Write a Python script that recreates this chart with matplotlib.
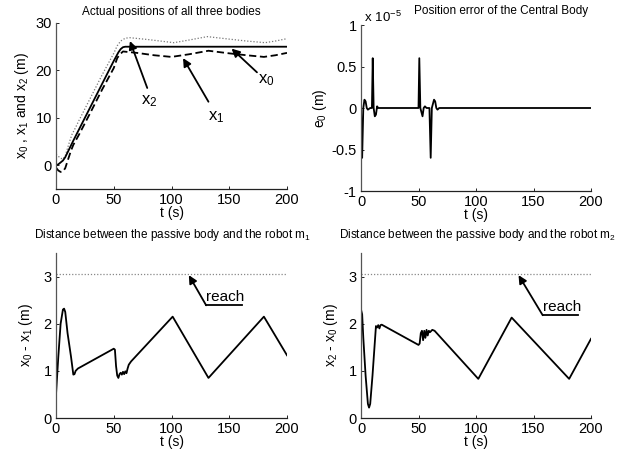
import matplotlib
matplotlib.use("Agg")
import matplotlib.pyplot as plt
import numpy as np

plt.rcParams['font.family'] = ['Liberation Sans', 'DejaVu Sans']
plt.rcParams['mathtext.fontset'] = 'custom'
plt.rcParams['mathtext.rm'] = 'Liberation Sans'
plt.rcParams['mathtext.it'] = 'Liberation Sans'

# ---- Data: actual positions ----
t_x0 = [0, 2, 4, 6, 8, 10, 15, 20, 30, 40, 50, 54, 56, 58, 60, 62, 200]
x0 = [0, 0.2, 0.6, 1.0, 1.7, 2.7, 5.2, 7.6, 12.4, 17.2, 22.0, 23.8, 24.5, 24.9, 25.0, 25.0, 25.0]

t_x1 = [0, 2, 4, 6, 8, 10, 13, 15, 20, 30, 40, 50, 53, 55, 58, 62, 70, 85, 100, 115, 132, 150, 165, 180, 190, 200]
x1 = [-0.5, -1.1, -1.4, -1.3, -0.6, 0.9, 3.1, 4.3, 6.5, 11.2, 16.0, 20.5, 22.6, 23.3, 24.0, 23.9, 23.7, 23.2, 22.85, 23.4, 24.15, 23.6, 23.2, 22.85, 23.2, 23.7]

t_x2 = [0, 2, 4, 6, 8, 10, 12, 14, 16, 20, 30, 40, 50, 53, 56, 60, 64, 80, 102, 115, 131, 150, 165, 181, 190, 200]
x2 = [2.3, 1.9, 1.5, 1.3, 2.0, 3.6, 5.2, 6.6, 7.5, 9.5, 14.3, 19.1, 23.6, 25.2, 26.2, 26.8, 26.9, 26.5, 25.85, 26.4, 27.13, 26.6, 26.2, 25.85, 26.2, 26.7]

# ---- Data: position error of the central body (x 1e-5) ----
t_e0 = [0, 1.0, 2.0, 3, 4, 5, 6, 8, 9.5, 10.2, 11, 12, 13, 14, 15, 16, 50, 50.7, 51.6, 53.5, 54.5, 55.6, 57, 59.5, 60.6, 61.6, 63.5, 64.5, 65.5, 66.5, 68, 200]
e0 = [0, -0.6, 0, 0.1, 0.08, 0, -0.02, 0, 0, 0.6, 0, -0.1, -0.08, 0.02, 0, 0, 0, 0.6, 0, -0.1, 0, 0.02, 0, 0, -0.6, 0, 0.1, 0.08, 0, -0.02, 0, 0]

# ---- Data: distances ----
t_d1 = [0, 2, 4, 6, 7, 8, 10, 13, 15, 16, 17, 19, 50, 51, 52, 53, 54, 55, 56, 57, 58, 59, 60, 61, 62, 63, 65, 101, 132, 180, 200]
d1 = [0.5, 1.3, 2.0, 2.3, 2.32, 2.25, 1.8, 1.3, 0.92, 0.93, 1.0, 1.05, 1.47, 1.45, 1.1, 0.9, 0.85, 0.93, 0.96, 0.92, 0.98, 0.93, 0.99, 0.95, 1.05, 1.13, 1.2, 2.15, 0.85, 2.15, 1.33]

t_d2 = [0, 1, 2, 4, 6, 7, 8, 10, 12, 13, 14, 15, 16, 17, 18, 50, 51, 52, 53, 54, 55, 56, 57, 58, 59, 60, 62, 64, 102, 131, 181, 200]
d2 = [2.3, 2.2, 1.7, 0.9, 0.3, 0.22, 0.3, 0.9, 1.6, 1.95, 1.92, 1.97, 1.9, 1.97, 1.98, 1.55, 1.58, 1.8, 1.85, 1.65, 1.85, 1.7, 1.87, 1.75, 1.85, 1.82, 1.87, 1.85, 0.83, 2.13, 0.83, 1.68]

reach = 3.05

xticks = [0, 50, 100, 150, 200]

fig = plt.figure(figsize=(6.26, 4.51), dpi=100)

def style(ax):
    for s in ['top', 'right']:
        ax.spines[s].set_visible(False)
    ax.spines['left'].set_linewidth(0.9)
    ax.spines['left'].set_color('#555555')
    ax.spines['bottom'].set_linewidth(0.9)
    ax.spines['bottom'].set_color('#222222')
    ax.tick_params(direction='in', length=2.5, width=0.6, labelsize=10.5, pad=3)
    ax.set_xlim(0, 200)
    ax.set_xticks(xticks)
    ax.set_xlabel('t (s)', fontsize=10, labelpad=-1)

W, H = 626, 451
def add(l, r, t, b):
    return fig.add_axes([l / W, 1 - b / H, (r - l) / W, (b - t) / H])

ap = dict(arrowstyle='-|>', color='black', lw=1.3, mutation_scale=12, shrinkA=0, shrinkB=0)

# Top-left
ax1 = add(56, 287, 23, 189)
style(ax1)
ax1.plot(t_x2, x2, color='#777777', lw=0.9, ls=(0, (1, 1.5)))
ax1.plot(t_x1, x1, color='black', lw=1.3, ls=(0, (4, 2)))
ax1.plot(t_x0, x0, color='black', lw=1.3)
ax1.set_ylim(-5, 30)
ax1.set_yticks([0, 10, 20, 30])
ax1.set_ylabel('x$_0$ , x$_1$ and x$_2$ (m)', fontsize=10, labelpad=3)
ax1.set_title('Actual positions of all three bodies', fontsize=8.5, pad=6)
ax1.annotate('', xy=(64, 26.2), xytext=(79, 16.3), arrowprops=ap)
ax1.text(81, 13.5, 'x$_2$', fontsize=12, ha='center', va='center')
ax1.annotate('', xy=(110, 22.6), xytext=(132, 13.4), arrowprops=ap)
ax1.text(139, 10.2, 'x$_1$', fontsize=12, ha='center', va='center')
ax1.annotate('', xy=(152, 24.6), xytext=(174, 19.6), arrowprops=ap)
ax1.text(182, 18.0, 'x$_0$', fontsize=12, ha='center', va='center')

# Top-right
ax2 = add(361, 591, 25, 191)
style(ax2)
ax2.plot(t_e0, e0, color='black', lw=1.3)
ax2.set_ylim(-1, 1)
ax2.set_yticks([-1, -0.5, 0, 0.5, 1])
ax2.set_yticklabels(['-1', '-0.5', '0', '0.5', '1'])
ax2.set_ylabel('e$_0$ (m)', fontsize=10, labelpad=2)
ax2.text(0.0, 1.0, ' x 10$^{-5}$', transform=ax2.transAxes, fontsize=9.5, ha='left', va='bottom')
fig.text(501 / W, 1 - 11 / H, 'Position error of the Central Body', fontsize=8.5, ha='center', va='center')

# Bottom-left
ax3 = add(56, 287, 253, 418)
style(ax3)
ax3.plot([0, 200], [reach, reach], color='#888888', lw=0.9, ls=(0, (1, 1.5)))
ax3.plot(t_d1, d1, color='black', lw=1.3)
ax3.set_ylim(0, 3.5)
ax3.set_yticks([0, 1, 2, 3])
ax3.set_ylabel('x$_0$ - x$_1$ (m)', fontsize=10, labelpad=6)
fig.text(172 / W, 1 - 235 / H, 'Distance between the passive body and the robot m$_1$', fontsize=8.5, ha='center', va='center')
ax3.annotate('', xy=(115, 3.03), xytext=(130, 2.39), arrowprops=ap)
ax3.plot([130, 161], [2.39, 2.39], color='black', lw=1.3, clip_on=False)
ax3.text(130, 2.41, 'reach', fontsize=11, ha='left', va='bottom')

# Bottom-right
ax4 = add(361, 591, 253, 418)
style(ax4)
ax4.plot([0, 200], [reach, reach], color='#888888', lw=0.9, ls=(0, (1, 1.5)))
ax4.plot(t_d2, d2, color='black', lw=1.3)
ax4.set_ylim(0, 3.5)
ax4.set_yticks([0, 1, 2, 3])
ax4.set_ylabel('x$_2$ - x$_0$ (m)', fontsize=10, labelpad=6)
fig.text(477 / W, 1 - 235 / H, 'Distance between the passive body and the robot m$_2$', fontsize=8.5, ha='center', va='center')
ax4.annotate('', xy=(137, 3.03), xytext=(158, 2.18), arrowprops=ap)
ax4.plot([158, 189], [2.18, 2.18], color='black', lw=1.3, clip_on=False)
ax4.text(158, 2.20, 'reach', fontsize=11, ha='left', va='bottom')

fig.savefig('out.png', dpi=100)
